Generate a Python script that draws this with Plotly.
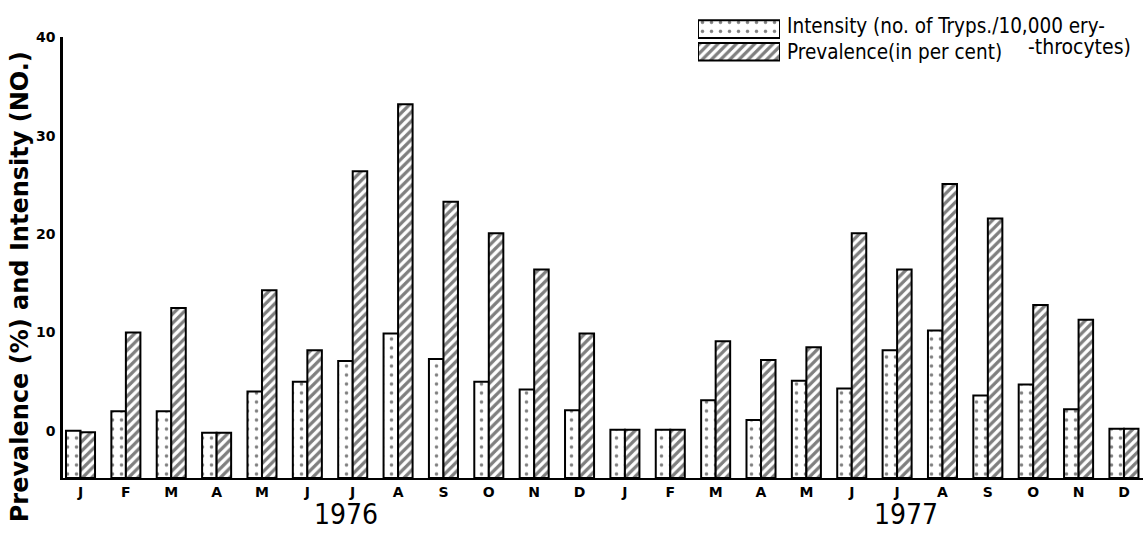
import plotly.graph_objects as go

# ---------------- data ----------------
months = ["J", "F", "M", "A", "M", "J", "J", "A", "S", "O", "N", "D",
          "J", "F", "M", "A", "M", "J", "J", "A", "S", "O", "N", "D"]
years = ["1976", "1977"]
year_label_pos = [5.85, 18.2]
intensity = [0.0, 2.0, 2.0, -0.2, 4.0, 5.0, 7.1, 9.9, 7.3, 5.0, 4.2, 2.1,
             0.1, 0.1, 3.1, 1.1, 5.1, 4.3, 8.2, 10.2, 3.6, 4.7, 2.2, 0.2]
prevalence = [-0.15, 10.0, 12.5, -0.2, 14.3, 8.2, 26.4, 33.2, 23.3, 20.1, 16.4, 9.9,
              0.1, 0.1, 9.1, 7.2, 8.5, 20.1, 16.4, 25.1, 21.6, 12.8, 11.3, 0.2]
y_ticks = [0, 10, 20, 30, 40]
legend_names = ["Intensity", "Prevalence"]

# ---------------- geometry helpers ----------------
W, H = 1143, 535
ML, MR, MT, MB = 63, 0, 0, 57
PW, PH = W - ML - MR, H - MT - MB
Y_MIN, Y_MAX = -4.8, 40.0
PLOT_TOP_PX = 30


def px_x(px):
    return (px - ML) / PW


def px_y(py):
    return (H - MB - py) / PH


x_idx = list(range(len(months)))
INK = "black"
hand = "DejaVu Sans Condensed, Liberation Sans Narrow, sans-serif"
bold = "DejaVu Sans, Verdana, sans-serif"

dot_pattern = dict(shape=".", fgcolor=INK, bgcolor="white", size=9, solidity=0.12)
hatch_pattern = dict(shape="/", fgcolor=INK, bgcolor="white", size=6.5, solidity=0.5)

fig = go.Figure()

fig.add_trace(go.Bar(
    x=x_idx, y=[v - Y_MIN for v in intensity], base=Y_MIN,
    name=legend_names[0], customdata=intensity,
    hovertemplate="%{customdata}<extra>Intensity</extra>",
    marker=dict(color="white", line=dict(color=INK, width=2), pattern=dot_pattern),
    showlegend=False,
))
fig.add_trace(go.Bar(
    x=x_idx, y=[v - Y_MIN for v in prevalence], base=Y_MIN,
    name=legend_names[1], customdata=prevalence,
    hovertemplate="%{customdata}<extra>Prevalence</extra>",
    marker=dict(color="white", line=dict(color=INK, width=2), pattern=hatch_pattern),
    showlegend=False,
))

# legend swatches (drawn as a tiny bar subplot)
fig.add_trace(go.Bar(
    x=[1], y=[legend_names[0]], orientation="h", width=0.78,
    xaxis="x2", yaxis="y2", showlegend=False, hoverinfo="skip",
    marker=dict(color="white", line=dict(color=INK, width=2), pattern=dot_pattern),
))
fig.add_trace(go.Bar(
    x=[1], y=[legend_names[1]], orientation="h", width=0.78,
    xaxis="x2", yaxis="y2", showlegend=False, hoverinfo="skip",
    marker=dict(color="white", line=dict(color=INK, width=2), pattern=hatch_pattern),
))

fig.update_layout(
    width=W, height=H,
    margin=dict(l=ML, r=MR, t=MT, b=MB),
    autosize=False,
    paper_bgcolor="white", plot_bgcolor="white",
    barmode="group", bargap=0.36, bargroupgap=0.0,
    showlegend=False,
    xaxis=dict(
        domain=[0, 1], range=[-0.386, 23.42],
        tickmode="array", tickvals=x_idx, ticktext=months,
        tickfont=dict(family=bold, size=14, color=INK, weight="bold"),
        ticks="", showgrid=False, zeroline=False,
        showline=True, linecolor=INK, linewidth=2,
    ),
    yaxis=dict(
        domain=[0, px_y(PLOT_TOP_PX)], range=[Y_MIN, Y_MAX],
        tickmode="array", tickvals=y_ticks, ticktext=[str(t) for t in y_ticks],
        tickfont=dict(family=bold, size=14, color=INK, weight="bold"),
        ticks="", ticklabelstandoff=2, showgrid=False, zeroline=False,
        showline=True, linecolor=INK, linewidth=2.5,
    ),
    xaxis2=dict(domain=[px_x(698), px_x(780)], range=[0, 1], anchor="y2",
                visible=False, fixedrange=True),
    yaxis2=dict(domain=[px_y(56), px_y(10)], anchor="x2", visible=False,
                autorange="reversed", fixedrange=True),
)

annotations = [
    dict(text="Prevalence (%) and Intensity (NO.)", textangle=-90,
         xref="paper", yref="paper", x=px_x(20), y=px_y(284),
         xanchor="center", yanchor="middle", showarrow=False,
         font=dict(family=bold, size=24, color=INK, weight="bold")),
    dict(text="Intensity (no. of Tryps./10,000 ery-",
         xref="paper", yref="paper", x=px_x(785), y=px_y(18),
         xanchor="left", yanchor="middle", showarrow=False,
         font=dict(family=hand, size=20.5, color=INK)),
    dict(text="Prevalence(in per cent)",
         xref="paper", yref="paper", x=px_x(785), y=px_y(45),
         xanchor="left", yanchor="middle", showarrow=False,
         font=dict(family=hand, size=20.5, color=INK)),
    dict(text="-throcytes)",
         xref="paper", yref="paper", x=px_x(1026), y=px_y(40),
         xanchor="left", yanchor="middle", showarrow=False,
         font=dict(family=hand, size=21, color=INK)),
]
for yr, pos in zip(years, year_label_pos):
    annotations.append(dict(
        text=yr, xref="x", yref="paper", x=pos, y=px_y(515),
        xanchor="center", yanchor="middle", showarrow=False,
        font=dict(family=hand, size=28, color=INK)))
fig.update_layout(annotations=annotations)

fig.write_html("out.html",
               config={"displayModeBar": False},
               post_script="document.body.style.margin='0px';document.body.style.overflow='hidden';")
